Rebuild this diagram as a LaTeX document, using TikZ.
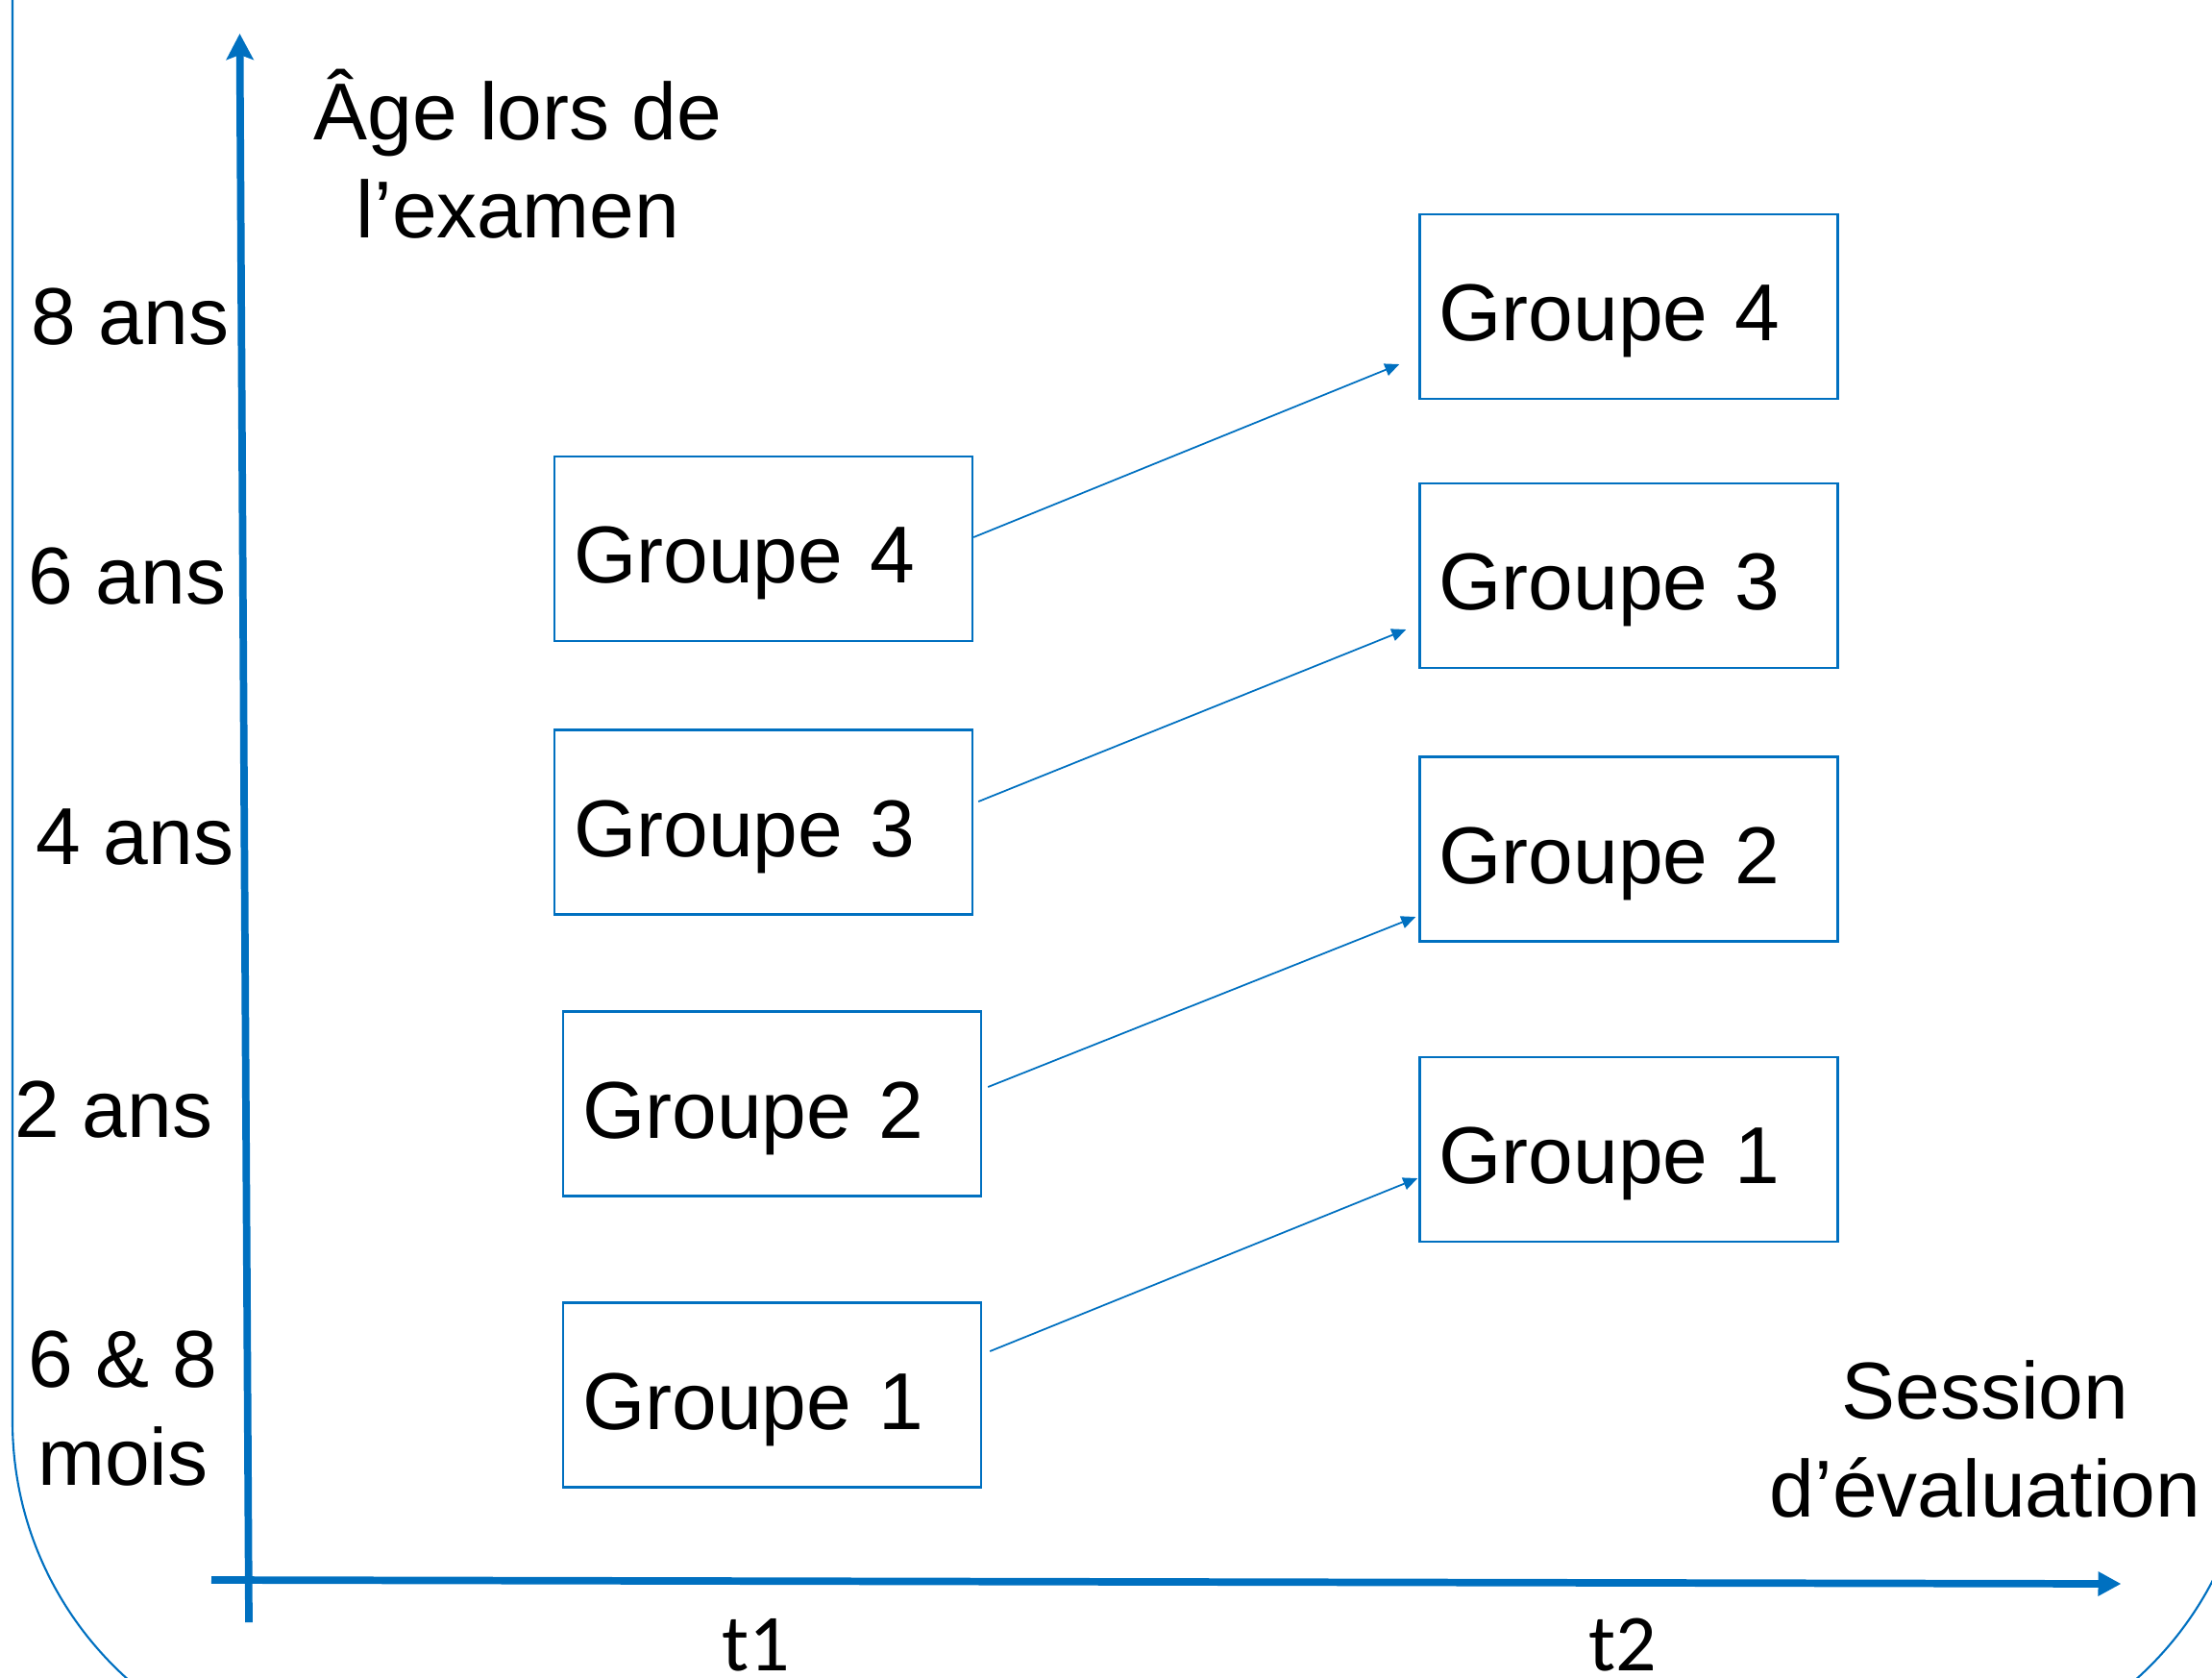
\documentclass[tikz,border=0pt]{standalone}
\usepackage{fontspec}
\setmainfont{Liberation Sans}
\newfontfamily\calfont{Carlito}
\usetikzlibrary{arrows.meta}
\definecolor{bleu}{HTML}{0070C0}
\tikzset{
	groupe/.style={draw=bleu, line width=0.7pt, minimum width=4.35cm, minimum height=1.92cm,
		text width=3.95cm, align=left, inner xsep=0.2cm, text height=0.71cm, text depth=0pt},
	fleche/.style={draw=bleu, line width=0.5pt, -{Triangle[length=0.15cm, width=0.13cm]}},
	axe/.style={draw=bleu, line width=2.2pt},
	etiq/.style={align=center},
	age/.style={anchor=base west, inner sep=0pt}
}

\begin{document}
		\begin{tikzpicture}[font=\fontsize{23.9pt}{29pt}\selectfont]
			%%%%% START %%%%%
			\useasboundingbox (0,0) rectangle (23.02,-17.45);
			
			\begin{scope}
				\clip (0,0) rectangle (23.02,-17.45);
				\draw[bleu, line width=0.6pt, rounded corners=3.6cm] (0.13,6) rectangle (23.43,-18.39);
			\end{scope}
			
			\coordinate (ybas) at (2.59,-16.88);
			\coordinate (yhaut) at (2.495,-0.35);
			\coordinate (xgauche) at (2.20,-16.44);
			\coordinate (xdroite) at (22.075,-16.48);
			\draw[axe, -{Stealth[length=0.27cm, width=0.28cm, inset=0.05cm]}] (ybas) -- (yhaut);
			\draw[axe, -{Triangle[length=0.24cm, width=0.24cm]}] (xgauche) -- (xdroite);
			
			\node[etiq, anchor=base] (age) at (5.39,-2.47) {Âge lors de\\l’examen};
			\node[etiq, anchor=base] (session) at (20.66,-15.78) {Session\\d’évaluation};
			
			\node[age] (a8) at (0.32,-3.58) {8 ans};
			\node[age] (a6) at (0.29,-6.28) {6 ans};
			\node[age] (a4) at (0.37,-8.99) {4 ans};
			\node[age] (a2) at (0.15,-11.83) {2 ans};
			\node[etiq, anchor=base] (amois) at (1.28,-15.45) {6 \& 8\\mois};
			
			\node[anchor=base, font=\calfont\fontsize{23.9pt}{29pt}\selectfont] (t1) at (7.87,-17.38) {t1};
			\node[anchor=base, font=\calfont\fontsize{23.9pt}{29pt}\selectfont] (t2) at (16.89,-17.38) {t2};
			
			% premiere session
			\node[groupe] (l4) at (7.945,-5.71) {Groupe 4};
			\node[groupe] (l3) at (7.945,-8.555) {Groupe 3};
			\node[groupe] (l2) at (8.035,-11.485) {Groupe 2};
			\node[groupe] (l1) at (8.035,-14.515) {Groupe 1};
			
			% seconde session
			\node[groupe] (r4) at (16.95,-3.19) {Groupe 4};
			\node[groupe] (r3) at (16.95,-5.99) {Groupe 3};
			\node[groupe] (r2) at (16.95,-8.835) {Groupe 2};
			\node[groupe] (r1) at (16.95,-11.96) {Groupe 1};
			
			\draw[fleche] ([yshift=0.12cm]l4.east) -- ([shift={(-0.20,-0.60)}]r4.west);
			\draw[fleche] ([shift={(0.05,0.215)}]l3.east) -- ([shift={(-0.13,-0.56)}]r3.west);
			\draw[fleche] ([shift={(0.06,0.175)}]l2.east) -- ([shift={(-0.03,-0.705)}]r2.west);
			\draw[fleche] ([shift={(0.08,0.455)}]l1.east) -- ([shift={(-0.01,-0.30)}]r1.west);
			%%%%% END %%%%%
		\end{tikzpicture}
\end{document}
